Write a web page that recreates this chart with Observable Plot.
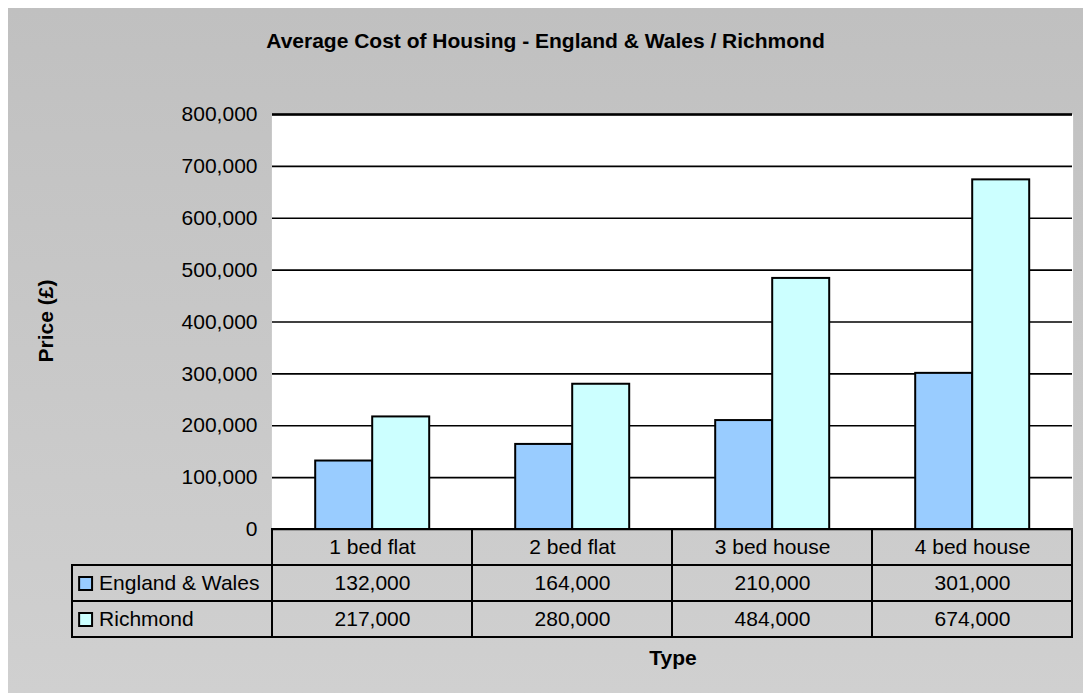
<!DOCTYPE html>
<html>
<head>
<meta charset="utf-8">
<script src="https://cdn.jsdelivr.net/npm/d3@7"></script>
<script src="https://cdn.jsdelivr.net/npm/@observablehq/plot@0.6"></script>
<style>
  html, body { margin: 0; padding: 0; background: #ffffff; }
  #chart { position: relative; width: 1083px; height: 693px; overflow: hidden;
           font-family: "Liberation Sans", Arial, sans-serif; color: #000; }
  #bg { position: absolute; left: 8px; top: 8px; right: 0; bottom: 0;
        background: linear-gradient(#c0c0c0, #d0d0d0); }
  .abs { position: absolute; }
  #title { left: 8px; width: 1075px; top: 30px; text-align: center; font-weight: bold;
           font-size: 21px; line-height: 21px; white-space: nowrap; }
  #xlabel { left: 272px; width: 802px; top: 647px; text-align: center; font-weight: bold;
            font-size: 21px; line-height: 21px; }
  #ylabel { left: 45px; top: 321px; font-weight: bold; font-size: 21px; line-height: 21px;
            white-space: nowrap; transform: translate(-50%, -50%) rotate(-90deg); }
</style>
</head>
<body>
<div id="chart">
  <div id="bg"></div>
  <div id="title" class="abs"></div>
  <div id="ylabel" class="abs"></div>
  <div id="main" class="abs" style="left:0;top:88px"></div>
  <div id="table" class="abs" style="left:0;top:527px"></div>
  <div id="xlabel" class="abs"></div>
</div>
<script>
// ---- data ----
const categories = ["1 bed flat", "2 bed flat", "3 bed house", "4 bed house"];
const seriesNames = ["England & Wales", "Richmond"];
const englandWales = [132000, 164000, 210000, 301000];
const richmond = [217000, 280000, 484000, 674000];
const seriesColors = ["#99ccff", "#ccffff"];
const yTicks = [0, 100000, 200000, 300000, 400000, 500000, 600000, 700000, 800000];
const titleText = "Average Cost of Housing - England & Wales / Richmond";
const yLabelText = "Price (£)";
const xLabelText = "Type";

// ---- layout ----
const W = 1083;
const tableLeft = 70, tableRight = 1074;
const step = (tableRight - tableLeft) / (categories.length + 1);
const frameLeft = tableLeft + step;
const mainTop = 88, frameTop = 114, frameBottom = 529;
const tableTop = 529, tableBottom = 637;
const font = "'Liberation Sans', Arial, sans-serif";
const fmt = d3.format(",");

document.getElementById("title").textContent = titleText;
document.getElementById("ylabel").textContent = yLabelText;
document.getElementById("xlabel").textContent = xLabelText;

const rows = categories.flatMap((c, i) => [
  {type: c, series: seriesNames[0], value: englandWales[i]},
  {type: c, series: seriesNames[1], value: richmond[i]}
]);

const main = Plot.plot({
  width: W,
  height: frameBottom - mainTop + 14,
  marginLeft: frameLeft,
  marginRight: W - tableRight,
  marginTop: frameTop - mainTop,
  marginBottom: 14,
  style: {fontFamily: font, fontSize: "21px", color: "#000", background: "transparent", overflow: "visible"},
  fx: {domain: categories, padding: 0, axis: null, label: null},
  x: {domain: seriesNames, paddingInner: 0, paddingOuter: 0.73, axis: null, label: null},
  y: {domain: [0, 800000], ticks: yTicks, tickFormat: fmt, tickSize: 0, tickPadding: 15, label: null},
  color: {domain: seriesNames, range: seriesColors},
  marks: [
    Plot.frame({fill: "white", stroke: null, insetLeft: -0.6, insetRight: -0.6}),
    Plot.ruleY(yTicks, {stroke: "#000", strokeWidth: 1.7}),
    Plot.ruleY(yTicks.slice(-1), {stroke: "#000", strokeWidth: 2.6}),
    Plot.barY(rows, {fx: "type", x: "series", y: "value", fill: "series", stroke: "#000", strokeWidth: 2})
  ]
});
document.getElementById("main").appendChild(main);

// ---- data table ----
const headerCells = categories.map(c => ({col: c, row: "Type", label: c}));
const valueCells = rows.map(d => ({col: d.type, row: d.series, label: fmt(d.value)}));
const keyCells = seriesNames.map(s => ({col: "key", row: s, label: s}));
const keyCenter = tableLeft + step / 2;

const table = Plot.plot({
  width: W,
  height: tableBottom - tableTop + 4,
  marginTop: 2,
  marginBottom: 2,
  marginLeft: tableLeft,
  marginRight: W - tableRight,
  style: {fontFamily: font, fontSize: "21px", color: "#000", background: "transparent", overflow: "visible"},
  x: {domain: ["key", ...categories], padding: 0, axis: null},
  y: {domain: ["Type", ...seriesNames], padding: 0, axis: null},
  color: {domain: seriesNames, range: seriesColors},
  marks: [
    Plot.cell([...headerCells, ...valueCells, ...keyCells], {x: "col", y: "row", fill: "none", stroke: "#000", strokeWidth: 2, inset: 0}),
    Plot.text([...headerCells, ...valueCells], {x: "col", y: "row", text: "label", fill: "#000"}),
    Plot.text(keyCells, {x: "col", y: "row", text: "label", fill: "#000", textAnchor: "start", dx: 97 - keyCenter}),
    Plot.dot(keyCells, {x: "col", y: "row", symbol: "square", r: 7.3, fill: "row", stroke: "#000", strokeWidth: 2, dx: 83.5 - keyCenter})
  ]
});
document.getElementById("table").appendChild(table);
</script>
</body>
</html>
